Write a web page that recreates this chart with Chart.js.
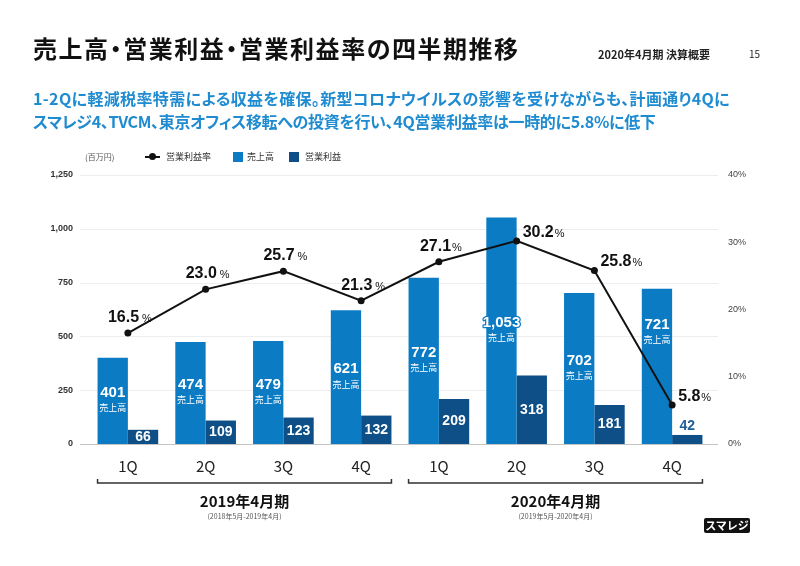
<!DOCTYPE html>
<html lang="ja">
<head>
<meta charset="utf-8">
<script src="https://cdn.jsdelivr.net/npm/chart.js@4.4.1/dist/chart.umd.min.js"></script>
<style>
  html, body { margin: 0; padding: 0; background: #fff; }
  body { width: 800px; height: 566px; position: relative; overflow: hidden; font-family: 'Noto Sans CJK JP', sans-serif; }
  .abs { position: absolute; white-space: nowrap; }
  #title { left: 33px; top: 36px; font-size: 24px; line-height: 24px; font-weight: 700; color: #111; font-feature-settings: "palt"; }
  #doc { left: 598px; top: 48px; font-size: 11px; line-height: 12px; font-weight: 700; color: #222; }
  #page { left: 749px; top: 48px; font-size: 10px; line-height: 12px; color: #222; }
  .sub { left: 33px; font-size: 16px; line-height: 18px; font-weight: 700; color: #1f8bd0; font-feature-settings: "palt"; }
  #sub1 { top: 89px; }
  #sub2 { top: 112px; }
  .legend { top: 152px; font-size: 9px; line-height: 10px; color: #333; }
  #unit { left: 85px; font-size: 8px; color: #555; }
  .swatch { top: 152px; width: 10px; height: 10px; }
  #lineKey { left: 145px; top: 156px; width: 15px; height: 2px; background: #111; }
  #lineKey::after { content: ''; position: absolute; left: 4px; top: -3px; width: 7px; height: 7px; border-radius: 50%; background: #111; }
  #logo { left: 704px; top: 518px; width: 46px; height: 15px; background: #111; color: #fff; border-radius: 2px;
          font-size: 11px; line-height: 15px; font-weight: 700; text-align: center; }
  canvas { position: absolute; left: 0; top: 0; }
</style>
</head>
<body>
<canvas id="chart" width="800" height="566"></canvas>
<div class="abs fit" id="title" data-w="487">売上高・営業利益・営業利益率の四半期推移</div>
<div class="abs" id="doc">2020年4月期 決算概要</div>
<div class="abs" id="page">15</div>
<div class="abs sub fit" id="sub1" data-w="697">1-2Qに軽減税率特需による収益を確保。新型コロナウイルスの影響を受けながらも、計画通り4Qに</div>
<div class="abs sub fit" id="sub2" data-w="623">スマレジ4、TVCM、東京オフィス移転への投資を行い、4Q営業利益率は一時的に5.8%に低下</div>
<div class="abs legend" id="unit">(百万円)</div>
<div class="abs" id="lineKey"></div>
<div class="abs legend" style="left:166px">営業利益率</div>
<div class="abs swatch" style="left:233px;background:#0b7bc4"></div>
<div class="abs legend" style="left:247px">売上高</div>
<div class="abs swatch" style="left:289px;background:#0d4f86"></div>
<div class="abs legend" style="left:305px">営業利益</div>
<div class="abs" id="logo">スマレジ</div>
<script>
// data
const quarters = ['1Q', '2Q', '3Q', '4Q', '1Q', '2Q', '3Q', '4Q'];
const sales = [401, 474, 479, 621, 772, 1053, 702, 721];
const profit = [66, 109, 123, 132, 209, 318, 181, 42];
const margin = [16.5, 23.0, 25.7, 21.3, 27.1, 30.2, 25.8, 5.8];
const fiscalYears = ['2019年4月期', '2020年4月期'];
const fiscalPeriods = ['(2018年5月-2019年4月)', '(2019年5月-2020年4月)'];

const salesColor = '#0b7bc4';
const profitColor = '#0d4f86';
const numFont = '"Liberation Sans", "Noto Sans CJK JP", sans-serif';
const jpFont = '"Noto Sans CJK JP", sans-serif';

// spread the header lines to the width they have in the slide
document.querySelectorAll('.fit').forEach(el => {
  const target = +el.dataset.w;
  const n = el.textContent.length;
  el.style.letterSpacing = ((target - el.offsetWidth) / n) + 'px';
});

// grid lines run a little past the plot on both sides
const gridPlugin = {
  id: 'grid',
  beforeDatasetsDraw(chart) {
    const { ctx, chartArea } = chart;
    const y = chart.scales.y;
    ctx.save();
    y.ticks.forEach(t => {
      const py = Math.round(y.getPixelForValue(t.value)) + 0.5;
      ctx.strokeStyle = t.value === 0 ? '#c4c4c4' : '#eeeeee';
      ctx.lineWidth = 1;
      ctx.beginPath();
      ctx.moveTo(chartArea.left - 9, py);
      ctx.lineTo(chartArea.right + 7, py);
      ctx.stroke();
    });
    ctx.restore();
  }
};

const labelPlugin = {
  id: 'labels',
  afterDatasetsDraw(chart) {
    const ctx = chart.ctx;
    const salesMeta = chart.getDatasetMeta(0);
    const profitMeta = chart.getDatasetMeta(1);
    const lineMeta = chart.getDatasetMeta(2);
    ctx.save();
    ctx.textAlign = 'center';
    ctx.textBaseline = 'middle';
    ctx.lineJoin = 'round';

    // sales values inside the bars (outlined so wide numbers stay readable)
    salesMeta.data.forEach((bar, i) => {
      const mid = (bar.y + bar.base) / 2;
      const cy = i === 7 ? bar.y + 36 : mid - 8;
      const txt = sales[i].toLocaleString('en-US');
      ctx.font = 'bold 15px ' + numFont;
      ctx.strokeStyle = salesColor;
      ctx.lineWidth = 2.5;
      ctx.strokeText(txt, bar.x, cy);
      ctx.fillStyle = '#fff';
      ctx.fillText(txt, bar.x, cy);
      ctx.font = '9px ' + jpFont;
      ctx.fillText('売上高', bar.x, cy + 15);
    });

    // profit values
    profitMeta.data.forEach((bar, i) => {
      ctx.font = 'bold 14px ' + numFont;
      if (bar.base - bar.y < 12) {
        ctx.fillStyle = '#1c5f97';
        ctx.fillText(profit[i], bar.x, bar.y - 9);
      } else {
        ctx.fillStyle = '#fff';
        ctx.fillText(profit[i], bar.x, (bar.y + bar.base) / 2);
      }
    });

    // margin labels
    ctx.textAlign = 'left';
    ctx.textBaseline = 'alphabetic';
    lineMeta.data.forEach((pt, i) => {
      const num = margin[i].toFixed(1);
      ctx.font = 'bold 16px ' + numFont;
      const wNum = ctx.measureText(num).width;
      ctx.font = '11px ' + numFont;
      const wPct = ctx.measureText('%').width;
      const gap = i < 4 ? 3 : 1;
      let x, y;
      if (i < 5) {
        x = pt.x - (wNum + gap + wPct) / 2 + 2;
        y = pt.y - 17 + 6;
      } else {
        x = pt.x + 6;
        y = pt.y - 10 + 6;
      }
      ctx.fillStyle = '#111';
      ctx.font = 'bold 16px ' + numFont;
      ctx.fillText(num, x, y);
      ctx.font = '11px ' + numFont;
      ctx.fillText('%', x + wNum + gap, y);
    });
    ctx.restore();
  },
  afterDraw(chart) {
    // fiscal year brackets under the quarter labels
    const { ctx, chartArea } = chart;
    const salesMeta = chart.getDatasetMeta(0);
    const profitMeta = chart.getDatasetMeta(1);
    ctx.save();
    fiscalYears.forEach((label, g) => {
      const first = salesMeta.data[g * 4];
      const last = profitMeta.data[g * 4 + 3];
      const x0 = first.x - first.width / 2;
      const x1 = last.x + last.width / 2;
      const y = chartArea.bottom + 39;
      ctx.strokeStyle = '#333';
      ctx.lineWidth = 1.5;
      ctx.beginPath();
      ctx.moveTo(x0, y - 4);
      ctx.lineTo(x0, y);
      ctx.lineTo(x1, y);
      ctx.lineTo(x1, y - 4);
      ctx.stroke();
      ctx.textAlign = 'center';
      ctx.textBaseline = 'middle';
      ctx.fillStyle = '#111';
      ctx.font = 'bold 15px ' + jpFont;
      ctx.fillText(label, (x0 + x1) / 2, y + 18);
      ctx.fillStyle = '#555';
      ctx.font = '7px ' + jpFont;
      ctx.fillText(fiscalPeriods[g], (x0 + x1) / 2, y + 33);
    });
    ctx.restore();
  }
};

new Chart(document.getElementById('chart'), {
  type: 'bar',
  data: {
    labels: quarters,
    datasets: [{
      label: '売上高',
      data: sales,
      backgroundColor: salesColor,
      yAxisID: 'y',
      order: 1,
      categoryPercentage: 0.78,
      barPercentage: 1
    }, {
      label: '営業利益',
      data: profit,
      backgroundColor: profitColor,
      yAxisID: 'y',
      order: 1,
      categoryPercentage: 0.78,
      barPercentage: 1
    }, {
      type: 'line',
      label: '営業利益率',
      data: margin,
      yAxisID: 'y1',
      order: 0,
      borderColor: '#111',
      borderWidth: 2,
      pointRadius: 3.5,
      pointBackgroundColor: '#111',
      pointBorderWidth: 0,
      tension: 0
    }]
  },
  options: {
    responsive: false,
    animation: false,
    layout: { padding: { left: 39, right: 29, top: 175, bottom: 82 } },
    plugins: { legend: { display: false }, tooltip: { enabled: false } },
    scales: {
      x: {
        grid: { display: false, drawTicks: false },
        border: { display: false },
        ticks: { color: '#222', padding: 13, font: { size: 15, family: jpFont } },
        afterFit(s) { s.height = 40; }
      },
      y: {
        position: 'left',
        min: 0,
        max: 1250,
        grid: { display: false, drawTicks: false },
        border: { display: false },
        ticks: {
          stepSize: 250,
          padding: 16,
          color: '#333',
          font: { size: 9, weight: 'bold', family: numFont },
          callback: v => v.toLocaleString('en-US')
        },
        afterFit(s) { s.width = 50; }
      },
      y1: {
        position: 'right',
        min: 0,
        max: 40,
        grid: { display: false, drawTicks: false },
        border: { display: false },
        ticks: {
          stepSize: 10,
          padding: 17,
          color: '#444',
          font: { size: 9, family: numFont },
          callback: v => v + '%'
        },
        afterFit(s) { s.width = 60; }
      }
    }
  },
  plugins: [gridPlugin, labelPlugin]
});
</script>
</body>
</html>
